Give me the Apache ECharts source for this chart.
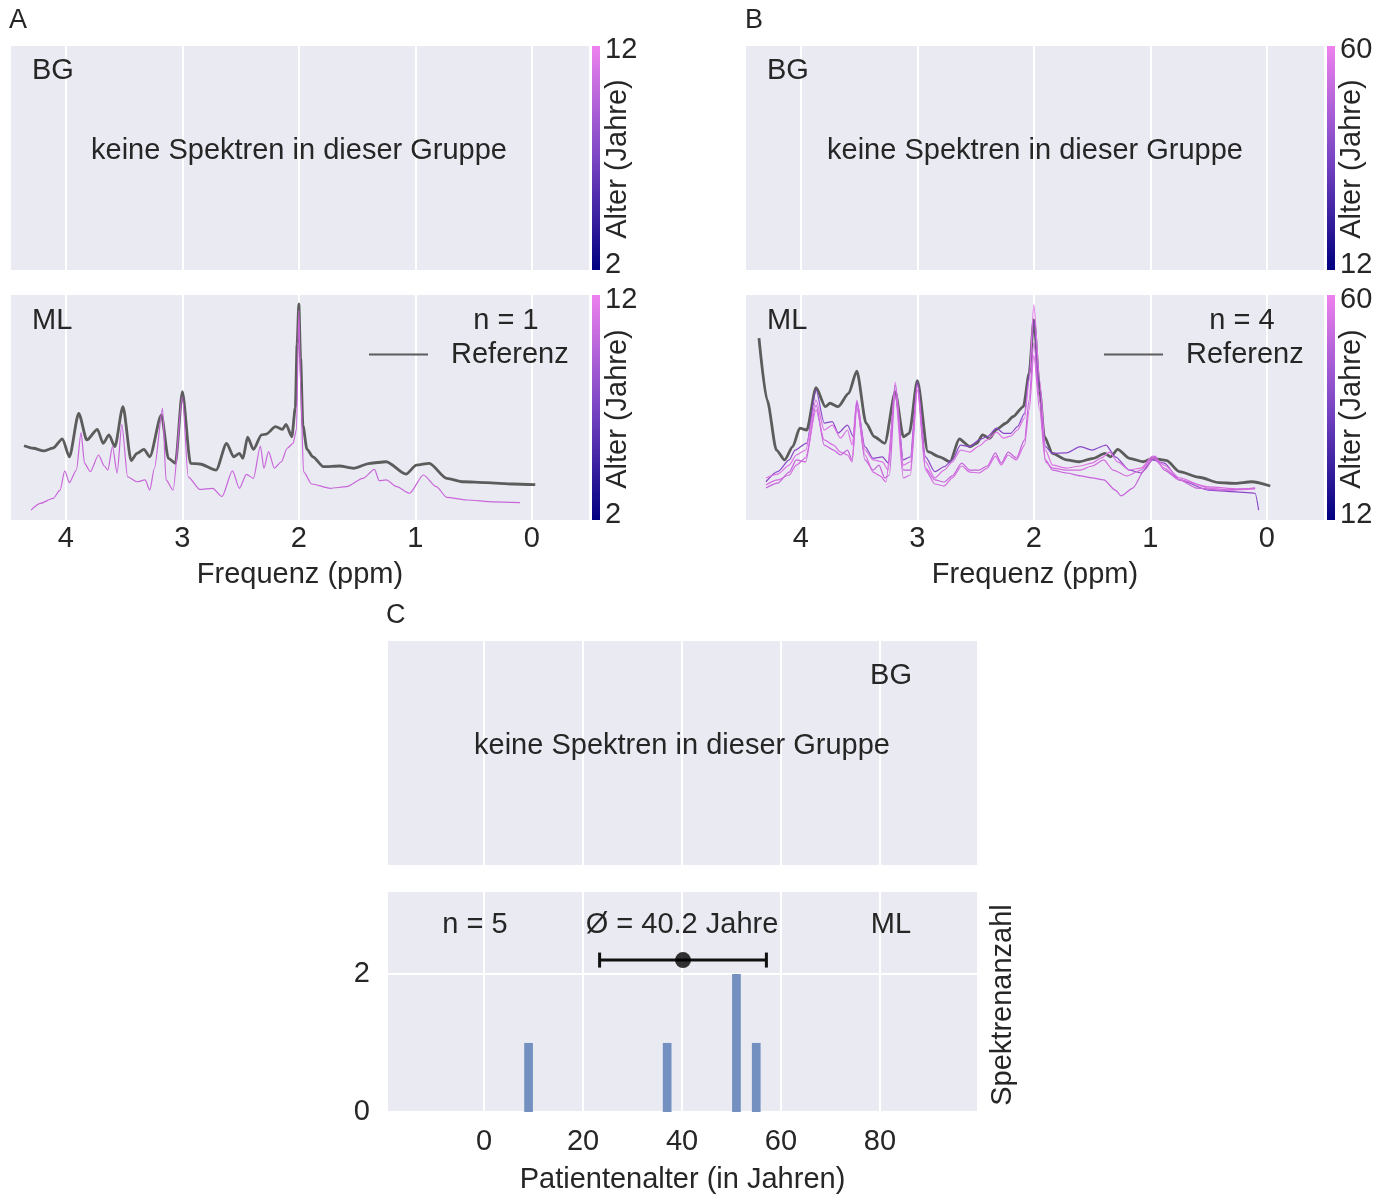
<!DOCTYPE html>
<html>
<head>
<meta charset="utf-8">
<script src="https://cdn.jsdelivr.net/npm/echarts@6/dist/echarts.min.js"></script>
<style>
  html, body { margin: 0; padding: 0; background: #fff; }
  #main { width: 1387px; height: 1195px; }
</style>
</head>
<body>
<div id="main"></div>
<script>
// spectra: [ppm, intensity (a.u.)]
var refA = [[4.36,33.0],[4.28,31.9],[4.19,30.7],[4.11,32.0],[4.03,36.1],[3.97,28.1],[3.89,47.4],[3.82,35.6],[3.73,40.3],[3.68,34.1],[3.63,37.8],[3.58,32.6],[3.51,50.4],[3.44,26.4],[3.39,29.6],[3.33,31.4],[3.28,28.1],[3.18,46.7],[3.12,27.4],[3.06,25.2],[3.00,57.0],[2.93,25.2],[2.85,24.9],[2.71,22.2],[2.62,34.1],[2.56,28.1],[2.51,29.6],[2.48,27.4],[2.44,36.8],[2.39,31.4],[2.32,37.8],[2.28,38.2],[2.20,41.5],[2.14,40.3],[2.11,42.5],[2.06,37.0],[2.03,50],[2.015,78],[2.00,96.0],[1.985,72],[1.965,42],[1.93,31.4],[1.88,28.1],[1.79,23.7],[1.65,24.0],[1.53,23.0],[1.39,25.2],[1.25,25.9],[1.08,20.4],[0.99,24.4],[0.88,25.2],[0.73,18.5],[0.59,17.0],[0.39,16.6],[0.16,16.0],[-0.03,15.7]];
var mlA = [[4.30,4.4],[4.22,7.4],[4.11,9.6],[4.05,13.3],[4.01,21.8],[3.97,16.6],[3.91,22.2],[3.87,38.8],[3.84,25.2],[3.79,21.5],[3.72,28.9],[3.67,24.0],[3.64,22.2],[3.60,32.6],[3.56,20.8],[3.52,42.5],[3.47,19.2],[3.39,17.0],[3.32,17.8],[3.28,13.3],[3.24,23.0],[3.17,49.6],[3.14,17.8],[3.08,13.3],[3.00,54.8],[2.95,19.2],[2.85,13.6],[2.74,14.1],[2.66,10.4],[2.57,21.8],[2.51,14.1],[2.45,20.3],[2.39,18.5],[2.33,32.9],[2.30,23.0],[2.26,30.4],[2.21,23.0],[2.15,25.9],[2.10,31.9],[2.05,34.1],[2.02,40.3],[2.00,93.2],[1.985,60],[1.96,21.5],[1.89,16.0],[1.73,14.1],[1.59,14.8],[1.45,18.5],[1.35,22.5],[1.31,17.5],[1.25,17.8],[1.16,14.8],[1.05,11.9],[0.93,20.0],[0.82,14.8],[0.73,10.1],[0.56,8.9],[0.33,8.1],[0.10,7.7]];

var refB = [[4.36,80.8],[4.29,53.3],[4.21,31.1],[4.14,26.7],[4.07,32.6],[4.01,40.8],[3.95,40.0],[3.87,58.8],[3.79,50.4],[3.75,51.9],[3.68,50.4],[3.59,56.3],[3.52,66.2],[3.44,43.0],[3.37,37.0],[3.28,34.1],[3.19,56.8],[3.12,37.0],[3.07,38.5],[3.00,61.9],[2.91,30.4],[2.81,28.1],[2.72,25.9],[2.64,36.0],[2.55,32.6],[2.49,34.1],[2.44,37.8],[2.38,36.3],[2.32,40.3],[2.24,43.0],[2.18,45.9],[2.09,50.4],[2.04,65.2],[2.00,88.9],[1.95,57.8],[1.91,37.0],[1.84,29.6],[1.72,26.7],[1.61,25.9],[1.49,27.4],[1.39,29.6],[1.34,28.1],[1.28,31.4],[1.18,27.4],[1.06,25.9],[0.98,27.4],[0.86,26.4],[0.75,21.5],[0.58,19.0],[0.41,16.6],[0.27,16.3],[0.13,17.0],[-0.03,15.1]];
var mlB1 = [[4.30,17.0],[4.20,21.5],[4.10,26.7],[4.05,31.1],[3.95,34.2],[3.87,57.8],[3.80,43.1],[3.73,43.7],[3.68,38.7],[3.60,42.2],[3.55,37.0],[3.52,52.6],[3.45,32.6],[3.38,27.4],[3.30,28.1],[3.25,25.3],[3.19,60.0],[3.12,26.7],[3.06,28.1],[3.00,61.5],[2.93,28.1],[2.85,21.5],[2.77,23.7],[2.70,26.7],[2.63,33.3],[2.55,32.6],[2.47,35.6],[2.40,37.0],[2.32,40.8],[2.26,38.5],[2.20,38.5],[2.14,41.5],[2.08,47.4],[2.04,65.2],[2.00,88.9],[1.95,57.8],[1.90,32.6],[1.84,29.6],[1.72,29.8],[1.60,32.6],[1.50,31.1],[1.38,33.3],[1.30,28.1],[1.18,22.2],[1.08,20.9],[0.98,26.7],[0.88,25.3],[0.75,17.8],[0.50,13.3],[0.30,12.6],[0.10,11.9],[0.07,4.4]];
var mlB2 = [[4.30,18.7],[4.20,20.4],[4.10,24.4],[4.04,28.9],[3.96,31.1],[3.87,53.3],[3.80,40.0],[3.73,42.2],[3.66,36.4],[3.60,40.0],[3.56,33.3],[3.52,53.3],[3.45,31.1],[3.38,26.7],[3.30,25.8],[3.25,22.2],[3.19,61.3],[3.12,24.4],[3.06,25.8],[3.00,60.0],[2.93,25.8],[2.85,18.7],[2.77,22.2],[2.70,25.8],[2.63,31.1],[2.55,30.2],[2.47,32.9],[2.40,35.6],[2.32,39.1],[2.26,36.4],[2.20,37.3],[2.14,40.0],[2.08,45.3],[2.04,62.2],[2.00,95.6],[1.95,62.2],[1.90,31.1],[1.84,24.4],[1.72,23.1],[1.60,24.0],[1.50,25.3],[1.42,27.6],[1.35,30.2],[1.28,25.8],[1.18,22.2],[1.08,23.1],[0.98,28.4],[0.88,24.4],[0.75,18.7],[0.50,14.2],[0.30,13.3],[0.10,13.8]];
var mlB3 = [[4.30,14.2],[4.20,16.4],[4.10,21.3],[4.04,26.7],[3.96,25.8],[3.87,51.1],[3.80,33.3],[3.72,31.1],[3.66,28.9],[3.60,31.1],[3.56,26.7],[3.52,52.0],[3.45,26.7],[3.38,22.2],[3.33,24.4],[3.28,18.7],[3.24,20.0],[3.19,57.8],[3.12,22.2],[3.06,22.2],[3.00,60.0],[2.93,23.1],[2.85,17.8],[2.77,16.9],[2.70,19.6],[2.62,25.3],[2.55,22.2],[2.47,22.2],[2.40,24.0],[2.33,29.8],[2.28,25.3],[2.22,30.2],[2.15,27.6],[2.08,35.6],[2.04,53.3],[2.00,78.7],[1.95,53.3],[1.90,26.7],[1.84,22.2],[1.72,20.9],[1.60,19.6],[1.50,18.7],[1.40,17.8],[1.30,13.3],[1.25,10.7],[1.15,14.2],[1.05,22.2],[0.96,28.4],[0.88,22.2],[0.75,17.8],[0.60,14.2],[0.40,13.3],[0.10,14.2]];
var mlB4 = [[4.30,15.6],[4.20,17.8],[4.10,20.0],[4.04,24.4],[3.96,27.6],[3.87,48.9],[3.80,35.6],[3.72,33.3],[3.66,30.2],[3.60,28.9],[3.56,25.8],[3.52,49.8],[3.45,28.9],[3.38,21.3],[3.32,19.6],[3.27,16.9],[3.19,55.6],[3.12,18.7],[3.06,20.0],[3.00,57.8],[2.93,22.2],[2.85,16.0],[2.77,15.1],[2.70,18.7],[2.62,24.0],[2.55,21.3],[2.47,20.9],[2.40,23.1],[2.33,28.4],[2.28,24.4],[2.22,28.9],[2.15,26.7],[2.08,33.3],[2.04,48.9],[2.00,73.3],[1.95,48.9],[1.90,25.8],[1.84,23.1],[1.72,22.2],[1.60,22.2],[1.50,24.0],[1.40,26.7],[1.32,22.2],[1.20,19.6],[1.08,22.2],[0.98,27.6],[0.88,23.1],[0.75,17.8],[0.50,14.7],[0.25,13.8],[0.10,14.2]];

// patient ages (histogram of ML group)
var histAge = [9, 37, 51, 55];
var histCount = [1, 1, 2, 1];
var meanAge = 40.2;
var sdAge = 16.85;
var meanY = 2.2;

var colorbarA = ['12', '2'];
var colorbarB = ['60', '12'];

var FONT = 'Liberation Sans, Arial, sans-serif';
var FS = 29;
var TXT = '#262626';
var BG = '#EAEAF2';

var chart = echarts.init(document.getElementById('main'));

var gridList = [
  { left: 10, top: 46, width: 580, height: 224 },
  { left: 10, top: 295, width: 580, height: 225 },
  { left: 745, top: 46, width: 580, height: 224 },
  { left: 745, top: 295, width: 580, height: 225 },
  { left: 387, top: 641, width: 591, height: 224 },
  { left: 387, top: 891, width: 591, height: 224 }
].map(function (g) {
  g.show = true; g.backgroundColor = BG; g.borderWidth = 0;
  return g;
});

function specX(gi, labels) {
  return {
    type: 'value', gridIndex: gi, min: -0.5, max: 4.48, inverse: true, splitNumber: 5,
    axisLine: { show: false }, axisTick: { show: false },
    axisLabel: { show: labels, showMinLabel: false, showMaxLabel: false, color: TXT, fontSize: FS, fontFamily: FONT, margin: 4 },
    splitLine: { show: true, lineStyle: { color: '#fff', width: 2 } },
    name: labels ? 'Frequenz (ppm)' : '', nameLocation: 'middle', nameGap: 40,
    nameTextStyle: { color: TXT, fontSize: FS, fontFamily: FONT }
  };
}
function ageX(gi, labels) {
  return {
    type: 'value', gridIndex: gi, min: -19.6, max: 99.8, splitNumber: 6,
    axisLine: { show: false }, axisTick: { show: false },
    axisLabel: { show: labels, showMinLabel: false, showMaxLabel: false, color: TXT, fontSize: FS, fontFamily: FONT, margin: 15 },
    splitLine: { show: true, lineStyle: { color: '#fff', width: 2 } },
    name: labels ? 'Patientenalter (in Jahren)' : '', nameLocation: 'middle', nameGap: 53,
    nameTextStyle: { color: TXT, fontSize: FS, fontFamily: FONT }
  };
}
function hiddenY(gi, max) {
  return { type: 'value', gridIndex: gi, min: 0, max: max, show: false, splitLine: { show: false } };
}

function spec(name, data, xi, color, width) {
  return {
    type: 'line', name: name, xAxisIndex: xi, yAxisIndex: xi, data: data,
    showSymbol: false, symbol: 'none', silent: true, smooth: 0.25, smoothMonotone: 'x',
    lineStyle: { color: color, width: width }, itemStyle: { color: color }, z: width > 2 ? 3 : 4
  };
}

function label(text, x, y, align, size) {
  return {
    type: 'text', x: x, y: y + 2, silent: true, z: 100,
    style: { text: text, fill: TXT, fontSize: size || FS, fontFamily: FONT, textAlign: align || 'left', textVerticalAlign: 'middle' }
  };
}
function rotLabel(text, x, y) {
  var t = label(text, x, y, 'center', FS);
  t.y = y;
  t.rotation = Math.PI / 2;
  return t;
}
function colorbar(x, y, h) {
  return {
    type: 'rect', shape: { x: x, y: y, width: 8, height: h }, silent: true, z: 100,
    style: { fill: new echarts.graphic.LinearGradient(0, 0, 0, 1, [
      { offset: 0, color: '#ee82ee' }, { offset: 0.5, color: '#7a45c4' }, { offset: 1, color: '#000080' }
    ]) }
  };
}

var barData = histAge.map(function (a, i) { return [a, histCount[i]]; });

var legendText = { color: TXT, fontSize: FS, fontFamily: FONT, padding: [0, 0, 0, 18] };

var option = {
  animation: false,
  backgroundColor: '#fff',
  grid: gridList,
  xAxis: [specX(0, false), specX(1, true), specX(2, false), specX(3, true), ageX(4, false), ageX(5, true)],
  yAxis: [
    hiddenY(0, 1), hiddenY(1, 100), hiddenY(2, 1), hiddenY(3, 100), hiddenY(4, 1),
    {
      type: 'value', gridIndex: 5, min: 0, max: 3.2, interval: 2,
      axisLine: { show: false }, axisTick: { show: false },
      axisLabel: { color: TXT, fontSize: FS, fontFamily: FONT, margin: 17, showMaxLabel: false, padding: [0, 0, 4, 0] },
      splitLine: { show: true, lineStyle: { color: '#fff', width: 2 } }
    }
  ],
  legend: [
    { data: ['Referenz'], left: 364, top: 335, icon: 'rect', itemWidth: 59, itemHeight: 2, selectedMode: false, textStyle: legendText },
    { data: ['Referenz'], left: 1099, top: 335, icon: 'rect', itemWidth: 59, itemHeight: 2, selectedMode: false, textStyle: legendText }
  ],
  series: [
    spec('Referenz', refA, 1, '#5c5c5c', 2.8),
    spec('ML 9', mlA, 1, '#c866da', 1.2),
    spec('Referenz', refB, 3, '#5c5c5c', 2.8),
    spec('ML 37', mlB1, 3, '#8a48c8', 1.2),
    spec('ML 51a', mlB2, 3, '#dc74e4', 1.2),
    spec('ML 51b', mlB3, 3, '#c662dc', 1.2),
    spec('ML 55', mlB4, 3, '#d46ce0', 1.2),
    {
      type: 'bar', name: 'Spektrenanzahl', xAxisIndex: 5, yAxisIndex: 5, data: barData,
      barWidth: 8.7, itemStyle: { color: '#7390c0' }, silent: true
    },
    {
      type: 'custom', name: 'Mittelwert', xAxisIndex: 5, yAxisIndex: 5, silent: true,
      data: [[meanAge - sdAge, meanAge + sdAge, meanY]],
      renderItem: function (params, api) {
        var lo = api.coord([api.value(0), api.value(2)]);
        var hi = api.coord([api.value(1), api.value(2)]);
        var st = { stroke: '#111', lineWidth: 3 };
        return {
          type: 'group', children: [
            { type: 'line', shape: { x1: lo[0], y1: lo[1], x2: hi[0], y2: hi[1] }, style: st },
            { type: 'line', shape: { x1: lo[0], y1: lo[1] - 7.5, x2: lo[0], y2: lo[1] + 7.5 }, style: st },
            { type: 'line', shape: { x1: hi[0], y1: hi[1] - 7.5, x2: hi[0], y2: hi[1] + 7.5 }, style: st }
          ]
        };
      }
    },
    {
      type: 'scatter', name: 'Ø', xAxisIndex: 5, yAxisIndex: 5, data: [[meanAge, meanY]],
      symbolSize: 16, itemStyle: { color: '#000' }, silent: true, z: 5
    }
  ],
  graphic: [
    label('A', 9, 19, 'left', 27),
    label('B', 745, 19, 'left', 27),
    label('C', 386, 614, 'left', 27),
    label('BG', 32, 69), label('ML', 32, 319),
    label('BG', 767, 69), label('ML', 767, 319),
    label('keine Spektren in dieser Gruppe', 299, 149, 'center'),
    label('keine Spektren in dieser Gruppe', 1035, 149, 'center'),
    label('n = 1', 506, 319, 'center'),
    label('n = 4', 1242, 319, 'center'),
    colorbar(592, 46, 224), colorbar(592, 295, 225),
    colorbar(1327, 46, 224), colorbar(1327, 295, 225),
    label(colorbarA[0], 605, 48), label(colorbarA[1], 605, 263),
    label(colorbarA[0], 605, 298), label(colorbarA[1], 605, 513),
    label(colorbarB[0], 1340, 48), label(colorbarB[1], 1340, 263),
    label(colorbarB[0], 1340, 298), label(colorbarB[1], 1340, 513),
    rotLabel('Alter (Jahre)', 618, 159), rotLabel('Alter (Jahre)', 618, 409),
    rotLabel('Alter (Jahre)', 1352, 159), rotLabel('Alter (Jahre)', 1352, 409),
    label('BG', 891, 674, 'center'),
    label('keine Spektren in dieser Gruppe', 682, 744, 'center'),
    label('n = 5', 475, 923, 'center'),
    label('Ø = 40.2 Jahre', 682, 923, 'center'),
    label('ML', 891, 923, 'center'),
    rotLabel('Spektrenanzahl', 1003, 1005)
  ]
};

chart.setOption(option);
</script>
</body>
</html>
